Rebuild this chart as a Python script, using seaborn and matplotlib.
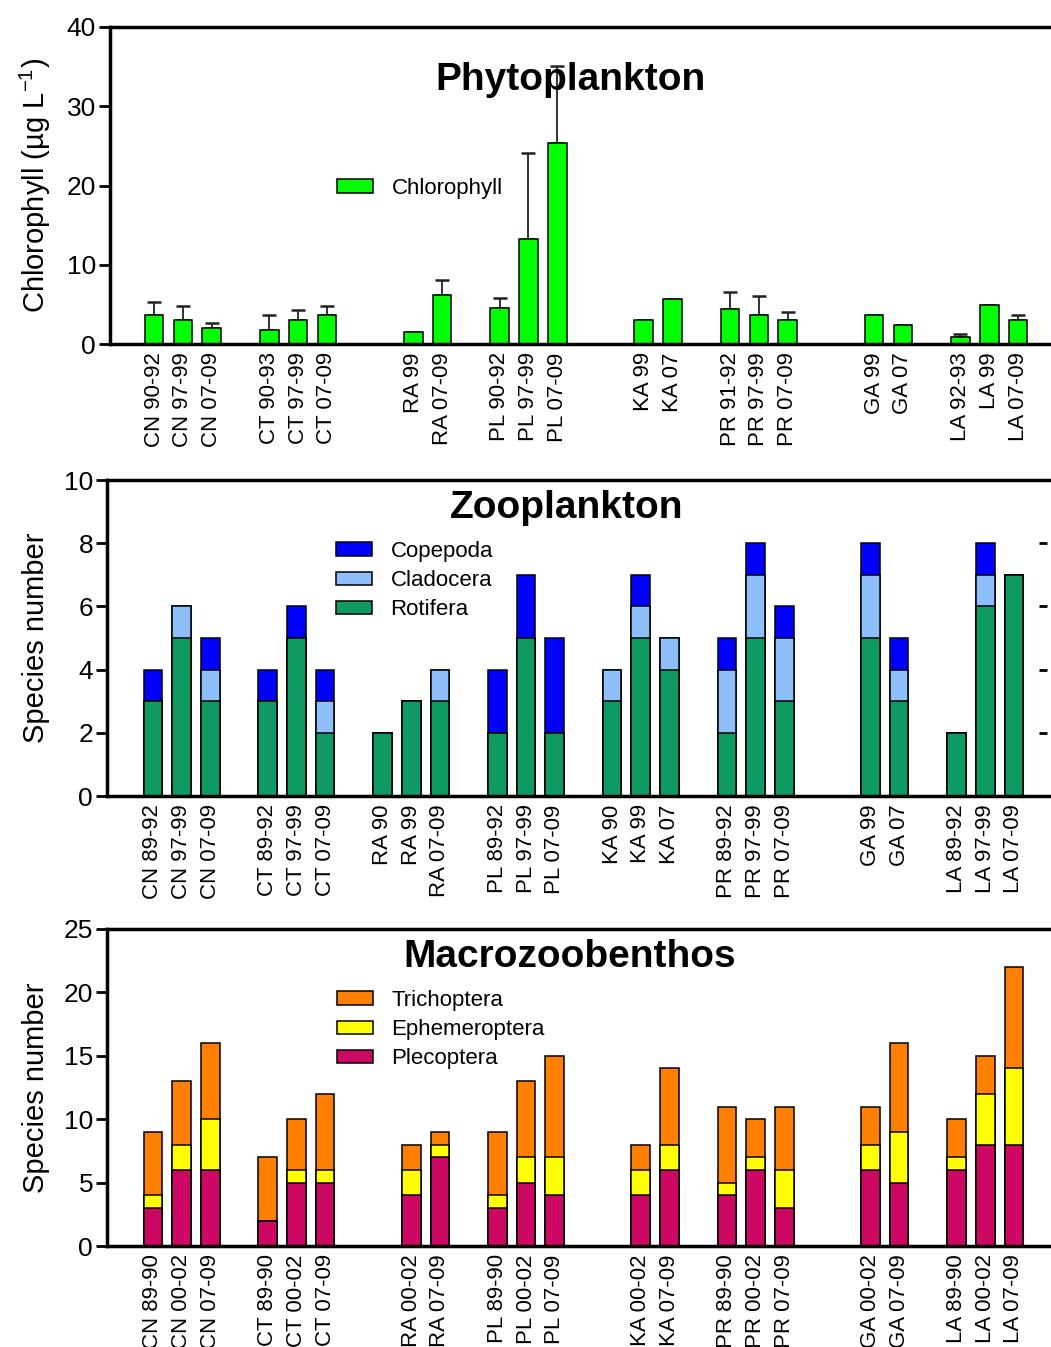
import matplotlib
matplotlib.use('Agg')
import matplotlib.pyplot as plt
from matplotlib.patches import Patch
import numpy as np
import pandas as pd
import seaborn as sns

# ---- data ----
chl_labels = ['CN 90-92', 'CN 97-99', 'CN 07-09', 'CT 90-93', 'CT 97-99', 'CT 07-09',
              'RA 99', 'RA 07-09', 'PL 90-92', 'PL 97-99', 'PL 07-09', 'KA 99', 'KA 07',
              'PR 91-92', 'PR 97-99', 'PR 07-09', 'GA 99', 'GA 07', 'LA 92-93', 'LA 99', 'LA 07-09']
chl_mean = [3.7, 3.0, 2.0, 1.8, 3.0, 3.65, 1.55, 6.2, 4.6, 13.2, 25.3,
            3.0, 5.7, 4.4, 3.7, 3.0, 3.7, 2.4, 0.85, 4.9, 3.0]
chl_err = [1.65, 1.85, 0.65, 1.9, 1.3, 1.2, np.nan, 1.9, 1.2, 10.85, 9.8,
           np.nan, np.nan, 2.1, 2.3, 1.1, np.nan, np.nan, 0.35, np.nan, 0.7]

zoo_labels = ['CN 89-92', 'CN 97-99', 'CN 07-09', 'CT 89-92', 'CT 97-99', 'CT 07-09',
              'RA 90', 'RA 99', 'RA 07-09', 'PL 89-92', 'PL 97-99', 'PL 07-09',
              'KA 90', 'KA 99', 'KA 07', 'PR 89-92', 'PR 97-99', 'PR 07-09',
              'GA 99', 'GA 07', 'LA 89-92', 'LA 97-99', 'LA 07-09']
rotifera = [3, 5, 3, 3, 5, 2, 2, 3, 3, 2, 5, 2, 3, 5, 4, 2, 5, 3, 5, 3, 2, 6, 7]
cladocera = [0, 1, 1, 0, 0, 1, 0, 0, 1, 0, 0, 0, 1, 1, 1, 2, 2, 2, 2, 1, 0, 1, 0]
copepoda = [1, 0, 1, 1, 1, 1, 0, 0, 0, 2, 2, 3, 0, 1, 0, 1, 1, 1, 1, 1, 0, 1, 0]

ben_labels = ['CN 89-90', 'CN 00-02', 'CN 07-09', 'CT 89-90', 'CT 00-02', 'CT 07-09',
              'RA 00-02', 'RA 07-09', 'PL 89-90', 'PL 00-02', 'PL 07-09',
              'KA 00-02', 'KA 07-09', 'PR 89-90', 'PR 00-02', 'PR 07-09',
              'GA 00-02', 'GA 07-09', 'LA 89-90', 'LA 00-02', 'LA 07-09']
plecoptera = [3, 6, 6, 2, 5, 5, 4, 7, 3, 5, 4, 4, 6, 4, 6, 3, 6, 5, 6, 8, 8]
ephemeroptera = [1, 2, 4, 0, 1, 1, 2, 1, 1, 2, 3, 2, 2, 1, 1, 3, 2, 4, 1, 4, 6]
trichoptera = [5, 5, 6, 5, 4, 6, 2, 1, 5, 6, 8, 2, 6, 6, 3, 5, 3, 7, 3, 3, 8]

# ---- style ----
sns.set_style('ticks')
plt.rcParams['font.family'] = ['Liberation Sans', 'DejaVu Sans']
plt.rcParams['mathtext.fontset'] = 'custom'
plt.rcParams['mathtext.rm'] = 'Liberation Sans'
plt.rcParams['mathtext.it'] = 'Liberation Sans:italic'
for k in ['text.color', 'axes.labelcolor', 'xtick.color', 'ytick.color', 'axes.edgecolor']:
    plt.rcParams[k] = 'black'

W, H = 1051, 1347
EDGE = 'black'
LW = 1.1


def slot_positions(labels):
    # each site takes 4 slots (3 bars + gap), bars right-aligned inside the group
    sites = list(dict.fromkeys(l.split()[0] for l in labels))
    pos = []
    for k, s in enumerate(sites):
        grp = [l for l in labels if l.split()[0] == s]
        start = 4 * k + 3 - len(grp)
        pos += [start + i for i in range(len(grp))]
    return pos


def make_axes(left_px, bottom_px, top_px, x0, step_px, x1=32):
    width = (x1 - x0) * step_px
    ax = fig.add_axes([left_px / W, 1 - bottom_px / H, width / W, (bottom_px - top_px) / H])
    return ax


def style_axes(ax, x0, ylim, yticks, labels, pos, ylabel):
    ax.set_xlim(x0, 32)
    ax.set_ylim(*ylim)
    ax.set_yticks(yticks)
    ax.set_xticks(pos)
    ax.set_xticklabels(labels, rotation=90, fontsize=16)
    ax.tick_params(axis='x', length=0, pad=6)
    ax.tick_params(axis='y', length=8, width=2, labelsize=19, pad=2, direction='out')
    for s in ['left', 'bottom', 'top']:
        ax.spines[s].set_linewidth(2.5)
        ax.spines[s].set_visible(True)
    ax.spines['right'].set_visible(False)
    ax.set_xlabel('')
    ax.set_ylabel(ylabel, fontsize=21, labelpad=10)


def stacked(ax, pos, layers, colors):
    # draw cumulative totals from the top layer down so each segment shows
    cum = np.cumsum(np.array(layers), axis=0)
    for i in range(len(layers) - 1, -1, -1):
        df = pd.DataFrame({'pos': pos, 'val': cum[i]})
        sns.barplot(data=df, x='pos', y='val', native_scale=True, color=colors[i],
                    saturation=1, width=0.65, edgecolor=EDGE, linewidth=LW,
                    errorbar=None, ax=ax)


def add_legend(ax, items, top_px, left_px):
    ax.legend(handles=[Patch(facecolor=c, edgecolor=EDGE, linewidth=LW, label=l) for c, l in items],
              loc='upper left', bbox_to_anchor=(left_px / W, 1 - top_px / H),
              bbox_transform=fig.transFigure, frameon=False, fontsize=16,
              handlelength=1.6, handleheight=0.55, handletextpad=0.85,
              labelspacing=0.37, borderpad=0, borderaxespad=0)


fig = plt.figure(figsize=(W / 100, H / 100), dpi=100)

# ---- Phytoplankton ----
pos1 = slot_positions(chl_labels)
ax1 = make_axes(110, 344, 27, -1.53, 28.8)
df1 = pd.DataFrame({'pos': pos1, 'chl': chl_mean})
ax1.errorbar(pos1, chl_mean, yerr=[np.zeros(len(chl_mean)), chl_err], fmt='none',
             ecolor='#222222', elinewidth=1.3, capsize=5, capthick=1.8, zorder=1)
sns.barplot(data=df1, x='pos', y='chl', native_scale=True, color='#00FF00', saturation=1,
            width=0.65, edgecolor=EDGE, linewidth=LW, errorbar=None, ax=ax1, zorder=2)
style_axes(ax1, -1.53, (0, 40), [0, 10, 20, 30, 40], chl_labels, pos1,
           'Chlorophyll (µg L$^{-1}$)')
add_legend(ax1, [('#00FF00', 'Chlorophyll')], 178, 337)
fig.text(571 / W, 1 - 80 / H, 'Phytoplankton', fontsize=28, fontweight='bold',
         ha='center', va='center')

# ---- Zooplankton ----
pos2 = slot_positions(zoo_labels)
ax2 = make_axes(107, 796, 480, -1.6, 28.7)
stacked(ax2, pos2, [rotifera, cladocera, copepoda], ['#0E9A62', '#8FBFFA', '#0000FF'])
style_axes(ax2, -1.6, (0, 10), [0, 2, 4, 6, 8, 10], zoo_labels, pos2, 'Species number')
sec = ax2.secondary_yaxis((1043 - 107) / ((32 + 1.6) * 28.7))
sec.set_yticks([2, 4, 6, 8])
sec.set_yticklabels([])
sec.tick_params(length=6, width=2, direction='inout')
sec.spines['right'].set_visible(False)
add_legend(ax2, [('#0000FF', 'Copepoda'), ('#8FBFFA', 'Cladocera'), ('#0E9A62', 'Rotifera')],
           541, 336)
fig.text(567 / W, 1 - 508 / H, 'Zooplankton', fontsize=28, fontweight='bold',
         ha='center', va='center')

# ---- Macrozoobenthos ----
pos3 = slot_positions(ben_labels)
ax3 = make_axes(107, 1246, 929, -1.6, 28.7)
stacked(ax3, pos3, [plecoptera, ephemeroptera, trichoptera], ['#CC0862', '#FFFF00', '#FF8000'])
style_axes(ax3, -1.6, (0, 25), [0, 5, 10, 15, 20, 25], ben_labels, pos3, 'Species number')
add_legend(ax3, [('#FF8000', 'Trichoptera'), ('#FFFF00', 'Ephemeroptera'), ('#CC0862', 'Plecoptera')],
           990, 337)
fig.text(570 / W, 1 - 957 / H, 'Macrozoobenthos', fontsize=28, fontweight='bold',
         ha='center', va='center')

fig.savefig('out.png', dpi=100)
